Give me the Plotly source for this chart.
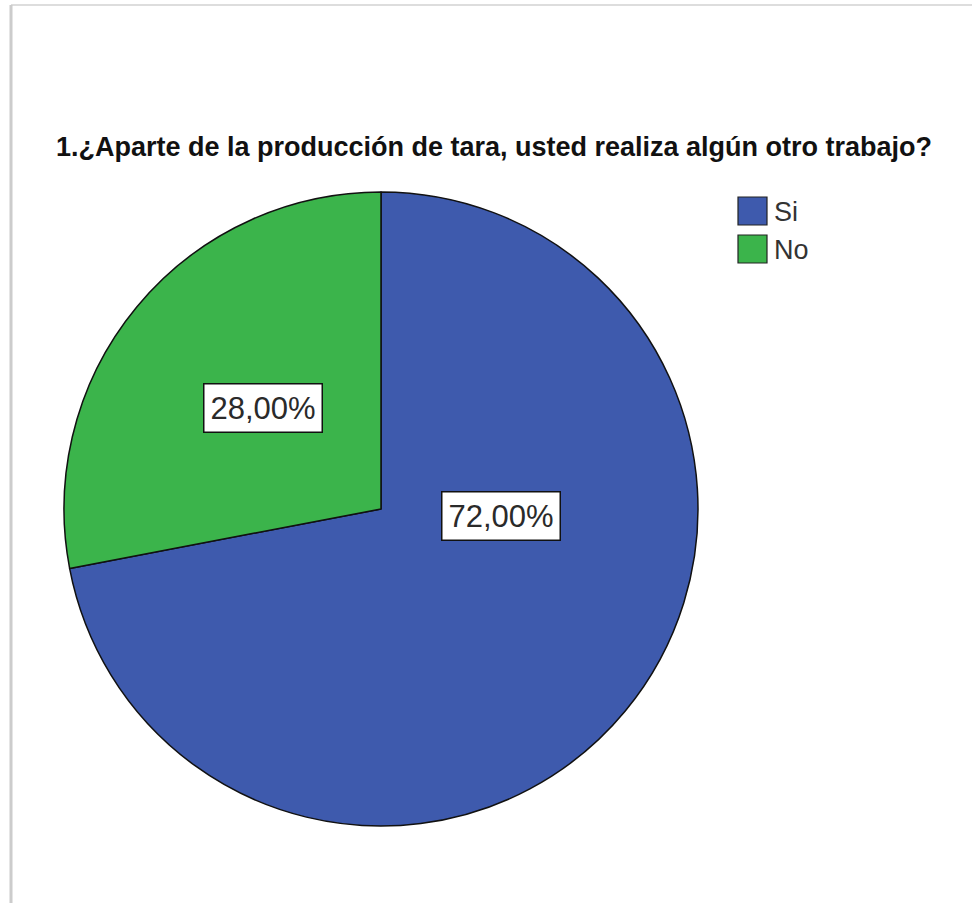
import plotly.graph_objects as go

# Survey answers
categories = ["Si", "No"]
percentages = [72.0, 28.0]
colors = ["#3E5AAD", "#3BB44B"]
title_text = "1.¿Aparte de la producción de tara, usted realiza algún otro trabajo?"

W, H = 972, 903


def px(x):
    return x / W


def py(y):
    return 1 - y / H


fig = go.Figure(
    go.Pie(
        labels=categories,
        values=percentages,
        sort=False,
        direction="clockwise",
        rotation=0,
        marker=dict(colors=colors, line=dict(color="#111111", width=1.5)),
        textinfo="none",
        hoverinfo="label+percent",
        showlegend=False,
        domain=dict(x=[px(64), px(698)], y=[py(826), py(192)]),
    )
)

# percentage labels in white boxes
label_pos = [(501, 516), (263, 408)]
for val, (lx, ly) in zip(percentages, label_pos):
    fig.add_annotation(
        x=px(lx), y=py(ly), xref="paper", yref="paper",
        xanchor="center", yanchor="middle",
        text=f"{val:.2f}%".replace(".", ","),
        showarrow=False,
        font=dict(family="Liberation Sans", size=31, color="#2a2a2a"),
        bgcolor="white", bordercolor="#111111", borderwidth=1.5, borderpad=6,
    )

# legend: coloured squares with category names
for i, (cat, col) in enumerate(zip(categories, colors)):
    top = 197 + i * 38
    fig.add_shape(
        type="rect", xref="paper", yref="paper",
        x0=px(738), x1=px(767), y0=py(top + 28), y1=py(top),
        fillcolor=col, line=dict(color="#222222", width=1.2),
    )
    fig.add_annotation(
        x=px(772), y=py(top + 15), xref="paper", yref="paper",
        text=cat, showarrow=False, xanchor="left", yanchor="middle",
        font=dict(family="Liberation Sans", size=27, color="#333333"),
    )

# frame lines along the top and left edges
fig.add_shape(type="line", xref="paper", yref="paper",
              x0=px(11), x1=1, y0=py(5), y1=py(5),
              line=dict(color="#dddddd", width=2))
fig.add_shape(type="line", xref="paper", yref="paper",
              x0=px(11), x1=px(11), y0=py(5), y1=0,
              line=dict(color="#cccccc", width=3))

fig.update_layout(
    width=W, height=H,
    margin=dict(l=0, r=0, t=0, b=0),
    paper_bgcolor="white", plot_bgcolor="white",
    title=dict(
        text=f"<b>{title_text}</b>",
        x=px(494), xanchor="center", y=py(147), yanchor="middle",
        font=dict(family="Liberation Sans", size=27, color="#111111"),
    ),
)

fig.write_html("out.html")
